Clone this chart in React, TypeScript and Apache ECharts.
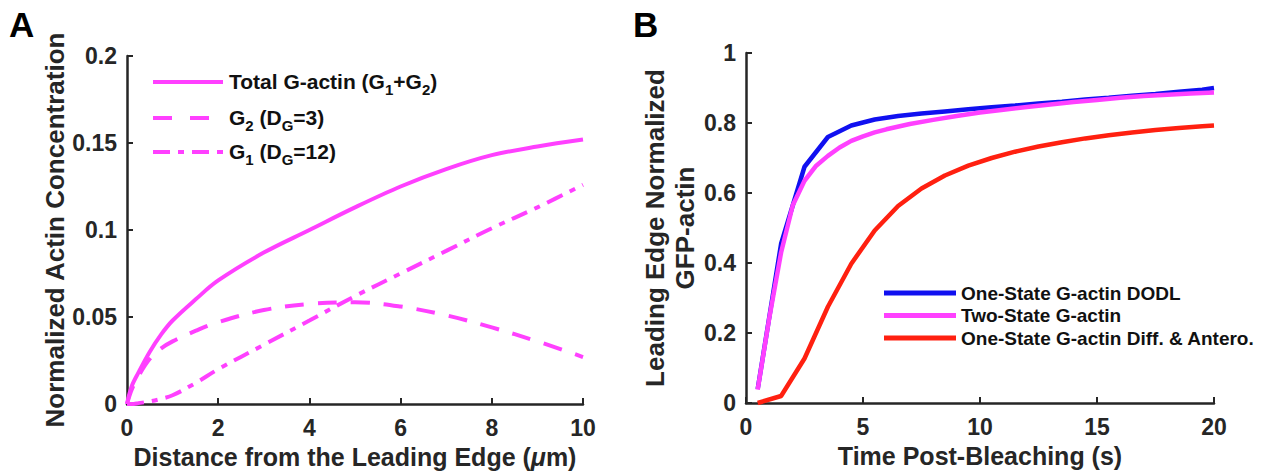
import React, { useEffect, useRef } from "react";
import * as echarts from "echarts";

// ---------- Panel A data ----------
const distA = [0, 0.1, 0.25, 0.5, 0.75, 1, 1.5, 2, 3, 4, 5, 6, 7, 8, 9, 10];
const totalA = [0, 0.01, 0.018, 0.03, 0.04, 0.048, 0.06, 0.071, 0.087, 0.1, 0.113, 0.125, 0.135, 0.143, 0.148, 0.152];
const g2A = [0, 0.008, 0.016, 0.026, 0.032, 0.036, 0.042, 0.047, 0.054, 0.0575, 0.0585, 0.056, 0.051, 0.044, 0.036, 0.027];
const g1A = [0, 0, 0.0005, 0.0015, 0.003, 0.005, 0.012, 0.02, 0.034, 0.048, 0.062, 0.075, 0.088, 0.101, 0.113, 0.126];
const xTicksA = { min: 0, max: 10, interval: 2 };
const yTicksA = { min: 0, max: 0.2, interval: 0.05 };

// ---------- Panel B data ----------
const timeB = [0.5, 1.5, 2.5, 3.5, 4.5, 5.5, 6.5, 7.5, 8.5, 9.5, 10.5, 11.5, 12.5, 13.5, 14.5, 15.5, 16.5, 17.5, 18.5, 19.5, 20];
const oneStateDODL = [0.04, 0.455, 0.675, 0.76, 0.793, 0.81, 0.82, 0.827, 0.833, 0.839, 0.845, 0.85, 0.856, 0.861, 0.867, 0.872, 0.878, 0.883, 0.889, 0.895, 0.9];
const timeTwoState = [0.5, 1, 1.5, 2, 2.5, 3, 3.5, 4, 4.5, 5, 5.5, 6, 7, 8, 9, 10, 11, 12, 13, 14, 15, 16, 17, 18, 19, 20];
const twoState = [0.038, 0.245, 0.43, 0.565, 0.635, 0.678, 0.706, 0.73, 0.749, 0.762, 0.773, 0.782, 0.797, 0.809, 0.82, 0.83, 0.838, 0.846, 0.853, 0.86, 0.866, 0.872, 0.877, 0.881, 0.884, 0.887];
const oneStateDiffAntero = [0, 0.02, 0.127, 0.275, 0.398, 0.493, 0.563, 0.613, 0.65, 0.678, 0.7, 0.718, 0.733, 0.745, 0.756, 0.765, 0.773, 0.78, 0.786, 0.791, 0.793];
const xTicksB = { min: 0, max: 20, interval: 5 };
const yTicksB = { min: 0, max: 1, interval: 0.2 };

const namesB = ["One-State G-actin DODL", "Two-State G-actin", "One-State G-actin Diff. & Antero."];

const AX = "#262626";
const MAGENTA = "#ff40ff";
const BLUE = "#1010f0";
const RED = "#ff2010";
const FONT = "'Liberation Sans', Arial, sans-serif";
const TICK = 23;

const pair = (xs: number[], ys: number[]) => xs.map((x, i) => [x, ys[i]]);

function axisBase() {
  return {
    axisLine: { show: true, onZero: false, lineStyle: { color: AX, width: 2.5 } },
    axisTick: { show: true, inside: true, length: 6, lineStyle: { color: AX, width: 2 } },
    splitLine: { show: false },
    nameLocation: "middle",
    nameTextStyle: { fontSize: 25, fontWeight: "bold", color: AX, fontFamily: FONT },
  };
}

export default function App() {
  const ref = useRef<HTMLDivElement>(null);
  useEffect(() => {
    if (!ref.current) return;
    const chart = echarts.init(ref.current, null, { renderer: "svg" });
    const mainStyle = { fontSize: 21, fontWeight: "bold", fill: "#111", fontFamily: FONT, lineHeight: 22, verticalAlign: "top" };
    const subStyle = { fontSize: 15, fontWeight: "bold", fill: "#111", fontFamily: FONT, lineHeight: 26, verticalAlign: "bottom" };
    const legendA = [
      { text: "{m|Total G-actin (G}{s|1}{m|+G}{s|2}{m|)}", y: 82, dash: null as any },
      { text: "{m|G}{s|2}{m| (D}{s|G}{m|=3)}", y: 118, dash: [19, 18] },
      { text: "{m|G}{s|1}{m| (D}{s|G}{m|=12)}", y: 152, dash: [17, 8, 6, 8] },
    ];
    const graphic: any[] = [
      { type: "text", left: 9, top: 7, style: { text: "A", fontSize: 35, fontWeight: "bold", fill: "#000", fontFamily: FONT } },
      { type: "text", left: 633, top: 7, style: { text: "B", fontSize: 35, fontWeight: "bold", fill: "#000", fontFamily: FONT } },
    ];
    legendA.forEach((r) => {
      graphic.push({
        type: "line",
        shape: { x1: 153, y1: r.y, x2: 223, y2: r.y },
        style: { stroke: MAGENTA, lineWidth: 4, lineDash: r.dash || undefined },
      });
      graphic.push({
        type: "text",
        x: 229,
        y: r.y - 11,
        style: { text: r.text, rich: { m: mainStyle, s: subStyle }, verticalAlign: "top", align: "left" },
      });
    });

    const lab = (margin: number) => ({ fontSize: TICK, fontWeight: "bold", color: AX, fontFamily: FONT, margin });

    const option: any = {
      animation: false,
      textStyle: { fontFamily: FONT, fontWeight: "bold" },
      grid: [
        { left: 127, top: 56, width: 456, height: 348 },
        { left: 746, top: 53, width: 468, height: 350 },
      ],
      xAxis: [
        {
          ...axisBase(),
          gridIndex: 0,
          type: "value",
          ...xTicksA,
          name: "Distance from the Leading Edge ({mu|μ}m)",
          nameGap: 40,
          nameTextStyle: {
            fontSize: 25, fontWeight: "bold", color: AX, fontFamily: FONT,
            rich: { mu: { fontSize: 25, fontWeight: "bold", fontStyle: "italic", color: AX, fontFamily: FONT } },
          },
          axisLabel: lab(12),
        },
        {
          ...axisBase(),
          gridIndex: 1,
          type: "value",
          ...xTicksB,
          name: "Time Post-Bleaching (s)",
          nameGap: 40,
          axisLabel: lab(12),
        },
      ],
      yAxis: [
        {
          ...axisBase(),
          gridIndex: 0,
          type: "value",
          ...yTicksA,
          name: "Normalized Actin Concentration",
          nameGap: 58,
          nameTextStyle: { fontSize: 26, fontWeight: "bold", color: AX, fontFamily: FONT },
          axisLabel: lab(10),
        },
        {
          ...axisBase(),
          gridIndex: 1,
          type: "value",
          ...yTicksB,
          name: "Leading Edge Normalized\nGFP-actin",
          nameGap: 46,
          nameTextStyle: { fontSize: 26, fontWeight: "bold", color: AX, fontFamily: FONT, lineHeight: 30 },
          axisLabel: lab(10),
        },
      ],
      legend: {
        data: namesB,
        orient: "vertical",
        left: 879,
        top: 278,
        icon: "rect",
        itemWidth: 72,
        itemHeight: 5,
        itemGap: 2.5,
        textStyle: { fontSize: 19, fontWeight: "bold", color: "#111", fontFamily: FONT, lineHeight: 20 },
      },
      graphic,
      series: [
        {
          type: "line", name: "Total G-actin (G1+G2)", xAxisIndex: 0, yAxisIndex: 0,
          data: pair(distA, totalA), smooth: 0.35, showSymbol: false, symbol: "none",
          lineStyle: { color: MAGENTA, width: 4 }, itemStyle: { color: MAGENTA },
        },
        {
          type: "line", name: "G2 (DG=3)", xAxisIndex: 0, yAxisIndex: 0,
          data: pair(distA, g2A), smooth: 0.35, showSymbol: false, symbol: "none",
          lineStyle: { color: MAGENTA, width: 4, type: [19, 14] }, itemStyle: { color: MAGENTA },
        },
        {
          type: "line", name: "G1 (DG=12)", xAxisIndex: 0, yAxisIndex: 0,
          data: pair(distA, g1A), smooth: 0.35, showSymbol: false, symbol: "none",
          lineStyle: { color: MAGENTA, width: 4, type: [17, 8, 6, 8] }, itemStyle: { color: MAGENTA },
        },
        {
          type: "line", name: namesB[0], xAxisIndex: 1, yAxisIndex: 1,
          data: pair(timeB, oneStateDODL), showSymbol: false, symbol: "none",
          lineStyle: { color: BLUE, width: 4.5 }, itemStyle: { color: BLUE },
        },
        {
          type: "line", name: namesB[1], xAxisIndex: 1, yAxisIndex: 1,
          data: pair(timeTwoState, twoState), showSymbol: false, symbol: "none",
          lineStyle: { color: MAGENTA, width: 4.5 }, itemStyle: { color: MAGENTA },
        },
        {
          type: "line", name: namesB[2], xAxisIndex: 1, yAxisIndex: 1,
          data: pair(timeB, oneStateDiffAntero), showSymbol: false, symbol: "none",
          lineStyle: { color: RED, width: 4.5 }, itemStyle: { color: RED },
        },
      ],
    };
    chart.setOption(option);
    return () => chart.dispose();
  }, []);
  return (
    <div
      ref={ref}
      style={{ position: "absolute", left: 0, top: 0, width: 1263, height: 476, background: "#fff" }}
    />
  );
}
